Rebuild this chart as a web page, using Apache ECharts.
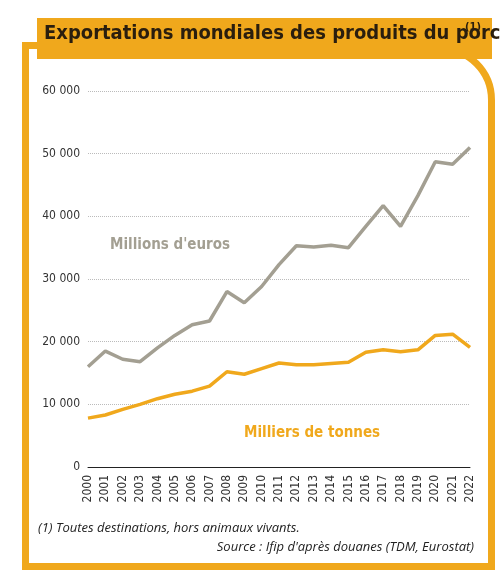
<!DOCTYPE html>
<html><head><meta charset="utf-8">
<script src="https://cdn.jsdelivr.net/npm/echarts@6/dist/echarts.min.js"></script>
<style>html,body{margin:0;padding:0;background:#fff}#c{width:504px;height:576px}</style>
</head><body><div id="c"></div>
<script>
const years = ['2000','2001','2002','2003','2004','2005','2006','2007','2008','2009','2010','2011','2012','2013','2014','2015','2016','2017','2018','2019','2020','2021','2022'];
const euros = [16000,18500,17200,16800,19000,21000,22700,23300,28000,26200,28800,32300,35300,35100,35400,35000,38400,41700,38400,43300,48700,48300,51000];
const tonnes = [7800,8300,9200,10000,10900,11600,12100,12900,15200,14800,15700,16600,16300,16300,16500,16700,18300,18700,18400,18700,21000,21200,19100];
const yTicks = [0,10000,20000,30000,40000,50000,60000];
const ORANGE = '#f0a81c', GRAY = '#a39f92';
const chart = echarts.init(document.getElementById('c'));
const fl = {stroke:ORANGE,lineWidth:7};
chart.setOption({
  animation:false,
  grid:{left:88,right:34,top:91,bottom:109},
  xAxis:{type:'category',data:years,boundaryGap:false,
    axisLine:{lineStyle:{color:'#222',width:1}},axisTick:{show:false},
    axisLabel:{rotate:90,interval:0,color:'#333',fontSize:12,fontFamily:'DejaVu Sans Condensed',margin:8}},
  yAxis:{type:'value',min:0,max:60000,interval:10000,
    axisLine:{show:false},axisTick:{show:false},
    axisLabel:{color:'#333',fontSize:12,fontFamily:'DejaVu Sans Condensed',margin:8,
      formatter:v=>yTicks.includes(v)?(v===0?'0':String(v/1000)+' 000'):''},
    splitLine:{lineStyle:{color:'#bbb',type:'dotted'}}},
  series:[
    {type:'line',data:euros,symbol:'none',lineStyle:{color:GRAY,width:3.5},z:3},
    {type:'line',data:tonnes,symbol:'none',lineStyle:{color:ORANGE,width:3.5},z:3}
  ],
  graphic:[
    {type:'line',shape:{x1:25.5,y1:42,x2:25.5,y2:570},style:fl},
    {type:'line',shape:{x1:22,y1:45.5,x2:440,y2:45.5},style:fl},
    {type:'line',shape:{x1:491.5,y1:100,x2:491.5,y2:570},style:fl},
    {type:'line',shape:{x1:22,y1:566.5,x2:495,y2:566.5},style:fl},
    {type:'arc',shape:{cx:440,cy:100,r:51.5,startAngle:-Math.PI/2,endAngle:0,clockwise:true},style:{stroke:ORANGE,lineWidth:7,fill:null}},
    {type:'rect',shape:{x:37,y:18,width:455,height:41},style:{fill:ORANGE}},
    {type:'text',left:44,top:24,style:{text:'Exportations mondiales des produits du porc',fill:'#2a1e0e',font:'bold 20px "DejaVu Sans Condensed"'}},
    {type:'text',left:465,top:22,style:{text:'(1)',fill:'#2a1e0e',font:'bold 11px "DejaVu Sans Condensed"'}},
    {type:'text',left:110,top:238,style:{text:"Millions d'euros",fill:GRAY,font:'bold 15px "DejaVu Sans Condensed"'}},
    {type:'text',left:244,top:426,style:{text:'Milliers de tonnes',fill:ORANGE,font:'bold 15px "DejaVu Sans Condensed"'}},
    {type:'text',left:38,top:522,style:{text:'(1) Toutes destinations, hors animaux vivants.',fill:'#222',font:'italic 13px "Open Sans"'}},
    {type:'text',right:30,top:541,style:{text:"Source : Ifip d'après douanes (TDM, Eurostat)",fill:'#222',font:'italic 13px "Open Sans"'}}
  ]
});
</script></body></html>
